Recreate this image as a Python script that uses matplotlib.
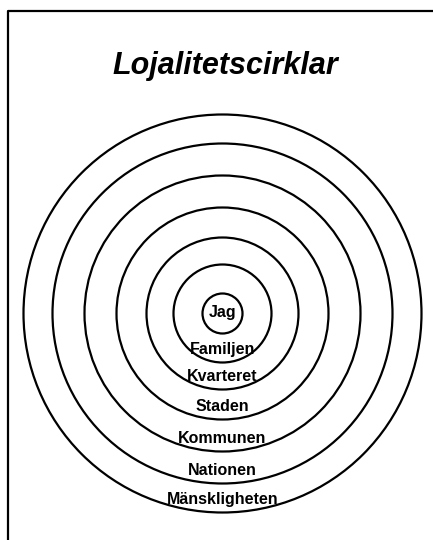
import matplotlib.pyplot as plt
from matplotlib.patches import Circle

# Rings from inside out (radius in pixels of the 433x540 canvas)
ring_labels = ['Jag', 'Familjen', 'Kvarteret', 'Staden', 'Kommunen', 'Nationen', 'Mänskligheten']
ring_radii = [20, 49, 76, 106, 138, 170, 199]
title = 'Lojalitetscirklar'

W, H = 433, 540
cx, cy = 222.5, 313.5

plt.rcParams['font.family'] = ['Liberation Sans', 'DejaVu Sans']

fig = plt.figure(figsize=(W / 100, H / 100), dpi=100)
ax = fig.add_axes([0, 0, 1, 1])
ax.set_xlim(0, W)
ax.set_ylim(H, 0)
ax.set_aspect('equal')
ax.axis('off')

# Frame (only left and top edges are inside the picture)
ax.plot([8, 8, W + 5], [H + 5, 11, 11], color='black', lw=1.6, solid_capstyle='butt')

ax.text(225, 74, title, ha='center', va='baseline', fontsize=22,
        fontweight='bold', fontstyle='italic')

for i, (label, r) in enumerate(zip(ring_labels, ring_radii)):
    ax.add_patch(Circle((cx, cy), r, fill=False, ec='black', lw=1.6))
    if i == 0:
        y = cy + 3.5
    else:
        y = cy + r - 8.5
    ax.text(cx, y, label, ha='center', va='baseline', fontsize=11.5, fontweight='bold')

fig.savefig('out.png', dpi=100)
